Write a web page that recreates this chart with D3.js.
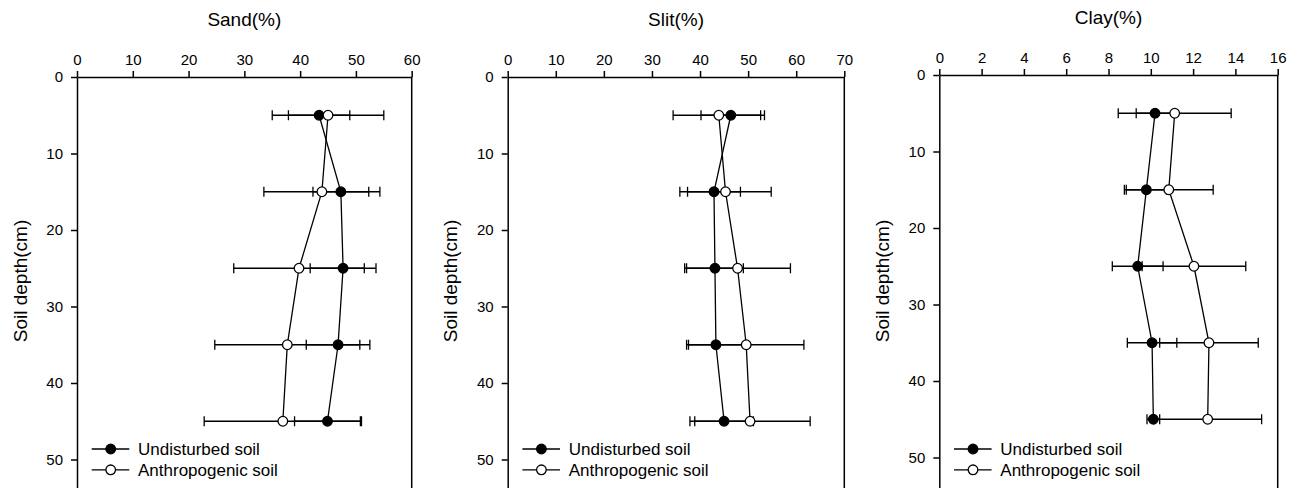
<!DOCTYPE html>
<html>
<head>
<meta charset="utf-8">
<script src="https://cdn.jsdelivr.net/npm/d3@7"></script>
<style>
  body { margin: 0; background: #fff; }
  text { font-family: "Liberation Sans", Arial, sans-serif; fill: #000; }
</style>
</head>
<body>
<script>
const WIDTH = 1295;
const HEIGHT = 488;

// soil depth (cm) of each sample layer
const depths = [5, 15, 25, 35, 45];
const seriesNames = ["Undisturbed soil", "Anthropogenic soil"];

const sandUnd = [43.4, 47.3, 47.7, 46.8, 44.9];
const sandUndErr = [5.5, 5.0, 5.9, 5.7, 5.9];
const sandAnt = [45.0, 43.9, 39.8, 37.7, 36.9];
const sandAntErr = [10.0, 10.4, 11.7, 13.0, 14.1];

const slitUnd = [46.4, 42.9, 43.1, 43.3, 45.0];
const slitUndErr = [6.2, 5.5, 5.9, 6.1, 6.1];
const slitAnt = [43.9, 45.3, 47.8, 49.6, 50.4];
const slitAntErr = [9.5, 9.5, 11.0, 12.0, 12.5];

const clayUnd = [10.2, 9.79, 9.38, 10.06, 10.12];
const clayUndErr = [0.89, 0.95, 1.2, 1.17, 0.3];
const clayAnt = [11.13, 10.85, 12.04, 12.75, 12.69];
const clayAntErr = [2.67, 2.1, 2.45, 2.33, 2.55];

const sandTicks = [0, 10, 20, 30, 40, 50, 60];
const slitTicks = [0, 10, 20, 30, 40, 50, 60, 70];
const clayTicks = [0, 2, 4, 6, 8, 10, 12, 14, 16];
const depthTicks = [0, 10, 20, 30, 40, 50];

var svg = d3.select("body").append("svg")
    .attr("width", WIDTH)
    .attr("height", HEIGHT);

var panels = [
    {title: "Sand(%)", ticks: sandTicks, und: sandUnd, undErr: sandUndErr,
     ant: sandAnt, antErr: sandAntErr, left: 77, right: 411.7, top: 77},
    {title: "Slit(%)", ticks: slitTicks, und: slitUnd, undErr: slitUndErr,
     ant: slitAnt, antErr: slitAntErr, left: 507.7, right: 844.3, top: 77},
    {title: "Clay(%)", ticks: clayTicks, und: clayUnd, undErr: clayUndErr,
     ant: clayAnt, antErr: clayAntErr, left: 939.3, right: 1277.7, top: 75}
];

panels.forEach(drawPanel);

function drawPanel(p) {
    var xScale = d3.scaleLinear()
        .domain([p.ticks[0], p.ticks[p.ticks.length - 1]])
        .range([p.left, p.right]);

    // 10 cm of depth is about 76.5 px, the plot runs past the bottom edge
    var yScale = d3.scaleLinear()
        .domain([0, 60])
        .range([p.top, p.top + 459]);

    var g = svg.append("g");

    // right edge of the frame
    g.append("line")
        .attr("x1", p.right).attr("x2", p.right)
        .attr("y1", p.top).attr("y2", yScale(60))
        .attr("stroke", "#000").attr("stroke-width", 1.5);

    var xAxis = d3.axisTop(xScale)
        .tickValues(p.ticks)
        .tickSize(6)
        .tickSizeOuter(0)
        .tickPadding(6);

    var yAxis = d3.axisLeft(yScale)
        .tickValues(depthTicks)
        .tickSize(6)
        .tickSizeOuter(0)
        .tickPadding(8);

    var gx = g.append("g")
        .attr("transform", "translate(0," + p.top + ")")
        .call(xAxis);
    var gy = g.append("g")
        .attr("transform", "translate(" + p.left + ",0)")
        .call(yAxis);

    [gx, gy].forEach(function(a) {
        a.select(".domain").attr("stroke-width", 1.5);
        a.selectAll(".tick line").attr("stroke-width", 1.5);
        a.selectAll("text")
            .style("font-family", "'Liberation Sans', Arial, sans-serif")
            .attr("font-size", 15)
            .attr("fill", "#000");
    });

    g.append("text")
        .attr("x", (p.left + p.right) / 2)
        .attr("y", p.top - 58)
        .attr("dy", "0.35em")
        .attr("text-anchor", "middle")
        .attr("font-size", 19)
        .text(p.title);

    g.append("text")
        .attr("transform", "translate(" + (p.left - 57) + "," + 281 + ") rotate(-90)")
        .attr("text-anchor", "middle")
        .attr("dy", "0.35em")
        .attr("font-size", 19)
        .text("Soil depth(cm)");

    var series = [
        {vals: p.und, err: p.undErr, fill: "#000"},
        {vals: p.ant, err: p.antErr, fill: "#fff"}
    ];

    // error bars first so the markers sit on top
    series.forEach(function(s) {
        var bars = g.append("g").selectAll("g")
            .data(depths.map(function(d, i) {
                return {depth: d, v: s.vals[i], e: s.err[i]};
            }))
            .join("g");
        bars.append("line")
            .attr("x1", function(d) { return xScale(d.v - d.e); })
            .attr("x2", function(d) { return xScale(d.v + d.e); })
            .attr("y1", function(d) { return yScale(d.depth); })
            .attr("y2", function(d) { return yScale(d.depth); })
            .attr("stroke", "#000").attr("stroke-width", 1.3);
        [-1, 1].forEach(function(sign) {
            bars.append("line")
                .attr("x1", function(d) { return xScale(d.v + sign * d.e); })
                .attr("x2", function(d) { return xScale(d.v + sign * d.e); })
                .attr("y1", function(d) { return yScale(d.depth) - 5; })
                .attr("y2", function(d) { return yScale(d.depth) + 5; })
                .attr("stroke", "#000").attr("stroke-width", 1.3);
        });
    });

    var line = d3.line()
        .x(function(d) { return xScale(d.v); })
        .y(function(d) { return yScale(d.depth); });

    series.forEach(function(s) {
        var pts = depths.map(function(d, i) { return {depth: d, v: s.vals[i]}; });
        g.append("path")
            .datum(pts)
            .attr("d", line)
            .attr("fill", "none")
            .attr("stroke", "#000")
            .attr("stroke-width", 1.3);
        g.append("g").selectAll("circle")
            .data(pts)
            .join("circle")
            .attr("cx", function(d) { return xScale(d.v); })
            .attr("cy", function(d) { return yScale(d.depth); })
            .attr("r", 4.8)
            .attr("fill", s.fill)
            .attr("stroke", "#000")
            .attr("stroke-width", 1.3);
    });

    // legend in the lower left corner
    var legend = g.append("g")
        .attr("transform", "translate(" + (p.left + 14.7) + ",449)");
    seriesNames.forEach(function(name, i) {
        var row = legend.append("g").attr("transform", "translate(0," + (i * 20.8) + ")");
        row.append("line")
            .attr("x1", 0).attr("x2", 37.6)
            .attr("stroke", "#000").attr("stroke-width", 1.3);
        row.append("circle")
            .attr("cx", 19).attr("r", 4.8)
            .attr("fill", series[i].fill)
            .attr("stroke", "#000").attr("stroke-width", 1.3);
        row.append("text")
            .attr("x", 46.3).attr("dy", "0.35em")
            .attr("font-size", 17)
            .text(name);
    });
}
</script>
</body>
</html>
